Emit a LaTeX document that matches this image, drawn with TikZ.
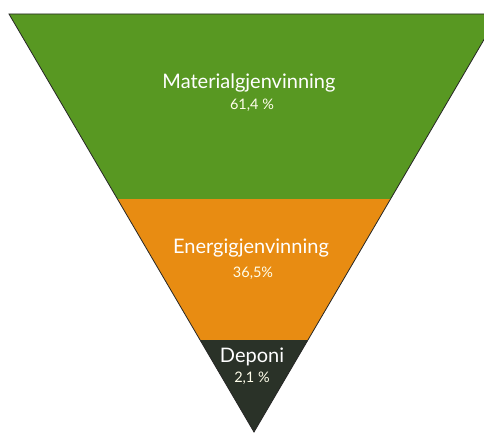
\documentclass[tikz,border=0pt]{standalone}
\usepackage{fontspec}
\setmainfont{Lato}
\usetikzlibrary{calc}

\definecolor{matgreen}{RGB}{88,152,34}
\definecolor{energyorange}{RGB}{232,140,18}
\definecolor{depdark}{RGB}{42,50,40}

\begin{document}
\begin{tikzpicture}[
            x=1pt, y=1pt,
            % --- styles ---
            band/.style={draw=none},
            title/.style={text=white, font=\fontsize{20}{22}\selectfont, inner sep=0pt},
            share/.style={text=white!92!yellow, font=\fontsize{14.5}{16}\selectfont, inner sep=0pt},
            rim/.style={draw=black!85, line width=0.8pt, line join=miter}
        ]
    \useasboundingbox (0,0) rectangle (484,432);
    \fill[white] (0,0) rectangle (484,432);
    \clip (0,0) rectangle (484,432);

    % --- corners of the funnel ---
    \coordinate (apex) at (254,0);
    \coordinate (tl) at (9,418);
    \coordinate (tr) at (499,418);
    \coordinate (l1) at ($(apex)!0.5574!(tl)$);
    \coordinate (r1) at ($(apex)!0.5574!(tr)$);
    \coordinate (l2) at ($(apex)!0.2201!(tl)$);
    \coordinate (r2) at ($(apex)!0.2201!(tr)$);

    % --- bands ---
    \fill[band, matgreen] (tl) -- (tr) -- (r1) -- (l1) -- cycle;
    \fill[band, energyorange] (l1) -- (r1) -- (r2) -- (l2) -- cycle;
    \fill[band, depdark] (l2) -- (r2) -- (apex) -- cycle;
    \draw[rim] (tl) -- (tr) -- (apex) -- cycle;

    % --- labels ---
    \node[title] (mat) at (249,349) {Materialgjenvinning};
    \node[share] (matpct) at (252,327) {61,4 \%};
    \node[title] (energy) at (251,184) {Energigjenvinning};
    \node[share] (energypct) at (253,159) {36,5\%};
    \node[title] (dep) at (252,75) {Deponi};
    \node[share] (deppct) at (252,54) {2,1 \%};

\end{tikzpicture}
\end{document}
